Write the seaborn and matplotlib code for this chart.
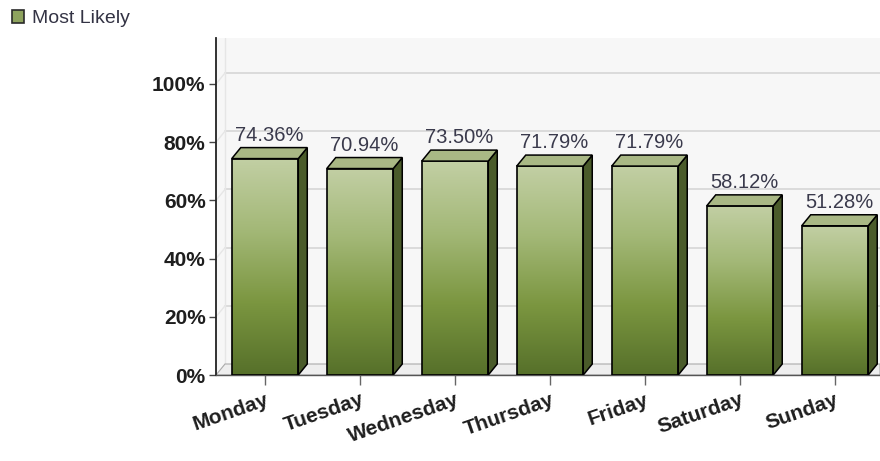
import matplotlib
matplotlib.use("Agg")
import matplotlib.pyplot as plt
import seaborn as sns
import numpy as np
import pandas as pd
from matplotlib.patches import Polygon, Patch
from matplotlib.colors import LinearSegmentedColormap

# ---- data ----
days = ["Monday", "Tuesday", "Wednesday", "Thursday", "Friday", "Saturday", "Sunday"]
values = [74.36, 70.94, 73.50, 71.79, 71.79, 58.12, 51.28]
value_labels = ["74.36%", "70.94%", "73.50%", "71.79%", "71.79%", "58.12%", "51.28%"]
yticks = [0, 20, 40, 60, 80, 100]
ytick_labels = ["0%", "20%", "40%", "60%", "80%", "100%"]
series_name = "Most Likely"

sns.set_theme(style="white")
plt.rcParams["font.family"] = ["Liberation Sans", "DejaVu Sans"]

W, H = 880, 461
fig = plt.figure(figsize=(W / 100, H / 100), dpi=100)
fig.patch.set_facecolor("white")
ax = fig.add_axes([216 / W, 86 / H, 664 / W, 337 / H])
ax.set_facecolor("#f7f7f7")

df = pd.DataFrame({"day": days, "value": values})
sns.barplot(data=df, x="day", y="value", ax=ax, width=0.7, color="#8ea35e",
            edgecolor="black", linewidth=1.2, saturation=1, zorder=3)

XLIM = (-0.516, 6.474)
YLIM = (0, 115.8)
ax.set_xlim(*XLIM)
ax.set_ylim(*YLIM)

# 3D depth (pixels -> data units)
DX_PX, DY_PX = 9, 11
px_per_x = 664 / (XLIM[1] - XLIM[0])
px_per_y = 337 / (YLIM[1] - YLIM[0])
dx = DX_PX / px_per_x
dy = DY_PX / px_per_y

# back wall grid lines + floor
xmin, xmax = XLIM
for yv in yticks[1:]:
    ax.plot([xmin + dx, xmax], [yv + dy, yv + dy], color="#d9d9d9", lw=1.3, zorder=1)
    ax.plot([xmin, xmin + dx], [yv, yv + dy], color="#e6e6e6", lw=1.0, zorder=1)
floor = Polygon([(xmin, 0), (xmin + dx, dy), (xmax, dy), (xmax, 0)], closed=True,
                facecolor="#eeeeee", edgecolor="#aaaaaa", lw=0.8, zorder=1.5)
ax.add_patch(floor)
ax.plot([xmin + dx, xmin + dx], [dy, YLIM[1]], color="#e6e6e6", lw=1.0, zorder=1)

cmap = LinearSegmentedColormap.from_list("g", ["#56702a", "#7b9640", "#a3b877", "#c2cfa4"])
grad = np.linspace(0, 1, 256).reshape(-1, 1)

bars = list(ax.patches)[:len(values)]
for p, lab in zip(bars, value_labels):
    x0, w, h = p.get_x(), p.get_width(), p.get_height()
    im = ax.imshow(grad, extent=[x0, x0 + w, 0, h], origin="lower", aspect="auto",
                   cmap=cmap, zorder=2.5, interpolation="bicubic")
    im.set_clip_path(p)
    p.set_facecolor("none")
    p.set_zorder(3)
    side = Polygon([(x0 + w, 0), (x0 + w + dx, dy), (x0 + w + dx, h + dy), (x0 + w, h)],
                   closed=True, facecolor="#4a5b2a", edgecolor="black", lw=1.1, zorder=3)
    top = Polygon([(x0, h), (x0 + dx, h + dy), (x0 + w + dx, h + dy), (x0 + w, h)],
                  closed=True, facecolor="#a9b885", edgecolor="black", lw=1.1, zorder=3)
    ax.add_patch(side)
    ax.add_patch(top)
    ax.annotate(lab, xy=(x0 + w / 2 + dx / 2, h + dy), xytext=(0, 5),
                textcoords="offset points", ha="center", va="baseline",
                fontsize=14.5, color="#3a3a4c", zorder=5)

ax.set_xlim(*XLIM)
ax.set_ylim(*YLIM)

ax.set_yticks(yticks)
ax.set_yticklabels(ytick_labels, fontsize=15, fontweight="bold", color="#1e1e1e")
ax.set_xticks(range(len(days)))
ax.set_xticklabels(days, fontsize=15, fontweight="bold", color="#1e1e1e",
                   rotation=19, ha="right", rotation_mode="anchor")
ax.tick_params(axis="y", which="both", left=True, length=5, width=1, color="#444444", pad=2.5)
ax.tick_params(axis="x", which="both", bottom=True, length=7, width=1, color="#666666", pad=4)
ax.set_xlabel("")
ax.set_ylabel("")

for s in ["top", "right"]:
    ax.spines[s].set_visible(False)
ax.spines["left"].set_color("#222222")
ax.spines["left"].set_linewidth(1.3)
ax.spines["bottom"].set_color("#555555")
ax.spines["bottom"].set_linewidth(1.0)

fig.legend(handles=[Patch(facecolor="#8ea35e", edgecolor="#2a2a2a", linewidth=1.2)],
           labels=[series_name], loc="upper left", bbox_to_anchor=(-0.004, 1.012),
           frameon=False, fontsize=14, handlelength=0.62, handleheight=0.62,
           handletextpad=0.4, borderpad=0.3, labelcolor="#333344")

fig.savefig("out.png", dpi=100)
